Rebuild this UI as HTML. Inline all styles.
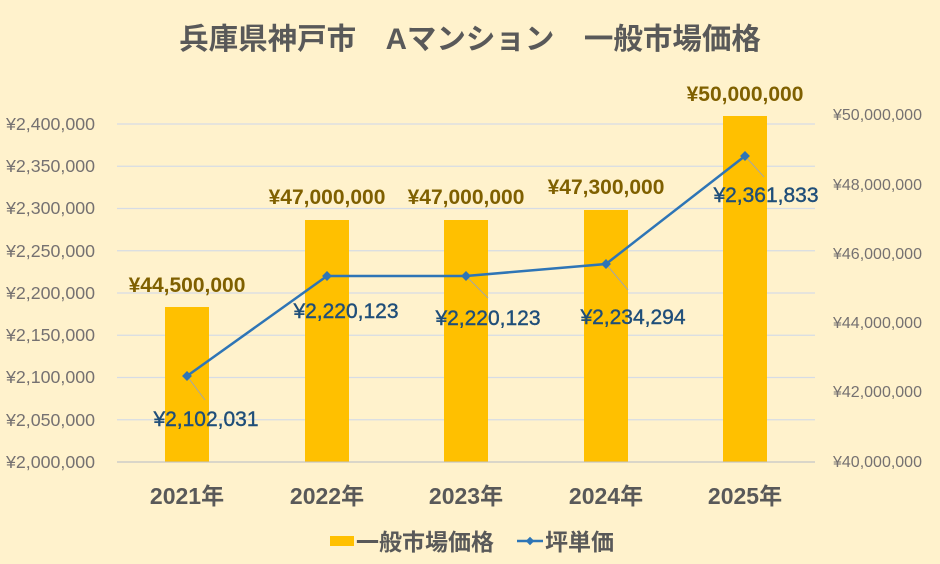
<!DOCTYPE html>
<html><head><meta charset="utf-8"><style>
html,body{margin:0;padding:0;background:#FFF2CC;}
svg{display:block;font-family:"Liberation Sans","Noto Sans CJK JP",sans-serif;}
</style></head><body>
<svg width="940" height="564" viewBox="0 0 940 564" xmlns="http://www.w3.org/2000/svg">
<rect width="940" height="564" fill="#FFF2CC"/>
<text x="470" y="49" text-anchor="middle" font-size="29.5" font-weight="bold" fill="#595959">兵庫県神戸市　Aマンション　一般市場価格</text>
<g stroke="#D6DCE5" stroke-width="1.2">
<line x1="117" x2="815" y1="124" y2="124"/><line x1="117" x2="815" y1="166.25" y2="166.25"/>
<line x1="117" x2="815" y1="208.5" y2="208.5"/><line x1="117" x2="815" y1="250.75" y2="250.75"/>
<line x1="117" x2="815" y1="293" y2="293"/><line x1="117" x2="815" y1="335.25" y2="335.25"/>
<line x1="117" x2="815" y1="377.5" y2="377.5"/><line x1="117" x2="815" y1="419.75" y2="419.75"/>
<line x1="117" x2="815" y1="462" y2="462"/>
</g>
<g font-size="17.8" fill="#757171" text-anchor="end">
<text x="95" y="130">¥2,400,000</text><text x="95" y="172">¥2,350,000</text>
<text x="95" y="214">¥2,300,000</text><text x="95" y="257">¥2,250,000</text>
<text x="95" y="299">¥2,200,000</text><text x="95" y="341">¥2,150,000</text>
<text x="95" y="383">¥2,100,000</text><text x="95" y="426">¥2,050,000</text>
<text x="95" y="468">¥2,000,000</text>
</g>
<g font-size="16" fill="#757171" text-anchor="start">
<text x="833" y="120">¥50,000,000</text><text x="833" y="190">¥48,000,000</text>
<text x="833" y="259">¥46,000,000</text><text x="833" y="328">¥44,000,000</text>
<text x="833" y="397">¥42,000,000</text><text x="833" y="467">¥40,000,000</text>
</g>
<g fill="#FFC000">
<rect x="165" y="307" width="44" height="155"/>
<rect x="305" y="220" width="44" height="242"/>
<rect x="444" y="220" width="44" height="242"/>
<rect x="584" y="210" width="44" height="252"/>
<rect x="723" y="116" width="44" height="346"/>
</g>
<g font-size="21" font-weight="bold" fill="#7F6000" text-anchor="middle">
<text x="187" y="292">¥44,500,000</text>
<text x="327" y="204">¥47,000,000</text>
<text x="466" y="204">¥47,000,000</text>
<text x="606" y="194">¥47,300,000</text>
<text x="745" y="101">¥50,000,000</text>
</g>
<g stroke="#A6A6A6" stroke-width="1">
<line x1="187" y1="376" x2="205" y2="400"/>
<line x1="466" y1="276" x2="488" y2="298"/>
<line x1="606" y1="264" x2="628" y2="290"/>
<line x1="745" y1="156" x2="764" y2="177"/>
</g>
<polyline points="187,376 327,276 466,276 606,264 745,156" fill="none" stroke="#2E75B6" stroke-width="2.5"/>
<g fill="#2E75B6">
<rect x="183.5" y="372.5" width="7" height="7" transform="rotate(45 187 376)"/>
<rect x="323.5" y="272.5" width="7" height="7" transform="rotate(45 327 276)"/>
<rect x="462.5" y="272.5" width="7" height="7" transform="rotate(45 466 276)"/>
<rect x="602.5" y="260.5" width="7" height="7" transform="rotate(45 606 264)"/>
<rect x="741.5" y="152.5" width="7" height="7" transform="rotate(45 745 156)"/>
</g>
<g font-size="21" fill="#1F4E79" text-anchor="middle" stroke="#1F4E79" stroke-width="0.4">
<text x="206" y="426">¥2,102,031</text>
<text x="346" y="318">¥2,220,123</text>
<text x="488" y="325">¥2,220,123</text>
<text x="633" y="324">¥2,234,294</text>
<text x="766" y="202">¥2,361,833</text>
</g>
<line x1="117" x2="815" y1="462" y2="462" stroke="#BFBFBF"/>
<g font-size="23" font-weight="bold" fill="#595959" text-anchor="middle">
<text x="187" y="504">2021年</text><text x="327" y="504">2022年</text>
<text x="466" y="504">2023年</text><text x="606" y="504">2024年</text>
<text x="745" y="504">2025年</text>
</g>
<rect x="330" y="536" width="24" height="10" fill="#FFC000"/>
<text x="356" y="550" font-size="23" font-weight="bold" fill="#595959">一般市場価格</text>
<line x1="517" x2="543" y1="541" y2="541" stroke="#2E75B6" stroke-width="2.5"/>
<rect x="527" y="538" width="6" height="6" fill="#2E75B6" transform="rotate(45 530 541)"/>
<text x="545" y="550" font-size="23" font-weight="bold" fill="#595959">坪単価</text>
</svg>
</body></html>
